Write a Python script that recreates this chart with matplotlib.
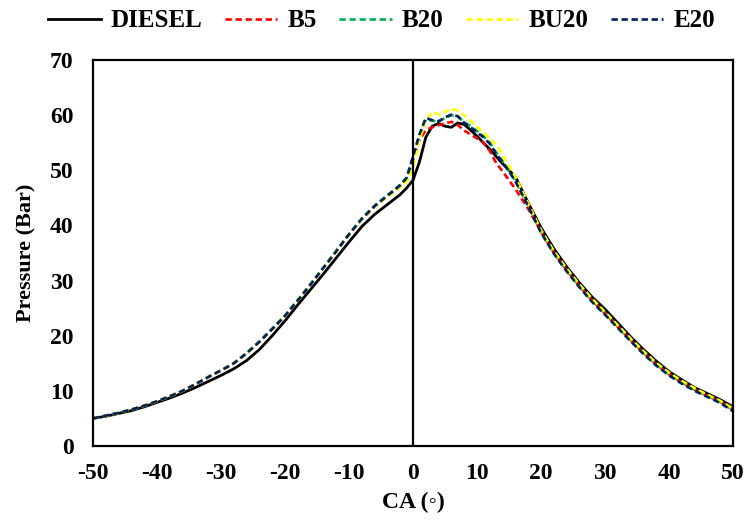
import matplotlib
matplotlib.use('Agg')
import matplotlib.pyplot as plt

# 曲轴转角 (CA, deg)
ca = [-50, -48, -46, -44, -42, -40, -38, -36, -34, -32, -30, -28, -26, -24, -22, -20,
      -18, -16, -14, -12, -10, -8, -6, -4, -3, -2, -1, 0, 1, 2, 3, 4, 5, 6, 7, 8,
      9, 10, 11, 12, 13, 14, 15, 16, 18, 20, 22, 24, 26, 28, 30, 32, 34, 36, 38,
      40, 42, 44, 46, 48, 50]

# 缸内压力 (Bar)
diesel = [5.0, 5.4, 5.9, 6.4, 7.1, 7.9, 8.7, 9.6, 10.6, 11.7, 12.8, 14.0, 15.5, 17.5, 20.0, 22.7,
          25.6, 28.4, 31.2, 34.1, 37.0, 39.8, 42.0, 43.8, 44.7, 45.6, 46.8, 48.2, 51.5, 56.0, 58.0, 58.5,
          58.0, 57.8, 58.6, 58.3, 57.3, 56.2, 55.0, 53.8, 52.5, 51.2, 50.0, 48.8, 44.1, 39.6, 35.8, 32.5,
          29.6, 27.0, 24.8, 22.3, 19.8, 17.5, 15.4, 13.5, 12.0, 10.6, 9.5, 8.4, 7.1]
b5 = [5.0, 5.5, 6.0, 6.6, 7.3, 8.1, 9.0, 10.0, 11.2, 12.5, 13.7, 15.0, 16.8, 18.9, 21.2, 23.6,
      26.4, 29.3, 32.3, 35.3, 38.3, 41.1, 43.4, 45.3, 46.2, 47.2, 48.4, 51.8, 55.5, 57.3, 57.8, 58.2,
      58.5, 58.8, 58.2, 57.2, 56.5, 55.8, 55.0, 53.5, 51.3, 49.8, 48.2, 46.6, 43.0, 38.9, 35.1, 31.9,
      29.0, 26.4, 24.0, 21.6, 19.2, 16.9, 14.8, 13.0, 11.5, 10.2, 9.1, 8.0, 6.6]
b20 = [5.0, 5.5, 6.0, 6.6, 7.3, 8.1, 9.0, 10.0, 11.2, 12.5, 13.7, 15.0, 16.9, 19.0, 21.3, 23.7,
       26.5, 29.4, 32.4, 35.4, 38.4, 41.3, 43.6, 45.5, 46.4, 47.4, 48.7, 52.3, 56.3, 59.2, 59.0, 58.8,
       59.5, 60.0, 59.8, 58.7, 58.0, 57.1, 56.2, 55.0, 53.2, 51.6, 49.9, 48.1, 43.6, 38.8, 35.0, 31.8,
       28.9, 26.3, 24.0, 21.6, 19.2, 16.9, 14.8, 13.0, 11.5, 10.2, 9.1, 8.0, 6.5]
bu20 = [5.0, 5.5, 6.0, 6.6, 7.3, 8.1, 9.0, 10.0, 11.2, 12.5, 13.7, 15.0, 16.8, 18.9, 21.2, 23.6,
        26.4, 29.3, 32.3, 35.3, 38.3, 41.1, 43.4, 45.2, 46.0, 46.9, 47.9, 50.5, 55.5, 59.0, 60.6, 60.1,
        60.6, 61.2, 60.8, 60.0, 59.0, 57.9, 56.8, 55.8, 54.6, 52.8, 50.8, 48.8, 44.0, 39.2, 35.4, 32.2,
        29.3, 26.7, 24.3, 21.9, 19.5, 17.2, 15.1, 13.3, 11.8, 10.5, 9.3, 8.2, 6.8]
e20 = [5.0, 5.5, 6.0, 6.6, 7.3, 8.1, 9.0, 10.0, 11.2, 12.5, 13.7, 15.0, 16.8, 18.9, 21.2, 23.6,
       26.4, 29.3, 32.3, 35.3, 38.4, 41.2, 43.5, 45.4, 46.3, 47.3, 48.6, 52.5, 56.5, 59.5, 59.1, 58.9,
       59.6, 60.1, 59.8, 58.6, 57.8, 56.9, 56.0, 54.8, 53.0, 51.5, 49.8, 48.0, 43.5, 38.7, 34.9, 31.7,
       28.8, 26.1, 23.8, 21.4, 19.0, 16.7, 14.6, 12.8, 11.3, 10.0, 8.9, 7.8, 6.3]

names = ['DIESEL', 'B5', 'B20', 'BU20', 'E20']
colors = ['black', '#FF0000', '#00B050', '#FFFF00', '#002060']
series = [diesel, b5, b20, bu20, e20]

plt.rcParams['font.family'] = ['Liberation Serif', 'DejaVu Serif']
plt.rcParams['font.weight'] = 'bold'
plt.rcParams['axes.unicode_minus'] = False

fig = plt.figure(figsize=(7.48, 5.22), dpi=100)
ax = fig.add_axes([0.1243, 0.1456, 0.98 - 0.1243, 0.885 - 0.1456])

for i in range(5):
    if i == 0:
        ax.plot(ca, series[i], color=colors[i], lw=2.0, label=names[i])
    else:
        ax.plot(ca, series[i], color=colors[i], lw=1.9, dashes=(2.4, 1.4), label=names[i])

# 0度竖线
ax.axvline(0, color='black', lw=1.6)

ax.set_xlim(-50, 50)
ax.set_ylim(0, 70)
ax.set_xticks(range(-50, 51, 10))
ax.set_yticks(range(0, 71, 10))
ax.tick_params(length=0, labelsize=17)
ax.tick_params(axis='x', pad=12)
ax.tick_params(axis='y', pad=14)
for s in ax.spines.values():
    s.set_linewidth(1.6)

ax.set_xlabel('CA (◦)', fontsize=17, fontweight='bold', labelpad=6)
ax.set_ylabel('Pressure (Bar)', fontsize=16, fontweight='bold', labelpad=10)

fig.legend(loc='upper center', bbox_to_anchor=(0.51, 1.025), ncol=5, frameon=False,
           prop={'size': 18, 'weight': 'bold'}, handlelength=2.1, handletextpad=0.4,
           columnspacing=0.9)

fig.savefig('out.png', dpi=100)
